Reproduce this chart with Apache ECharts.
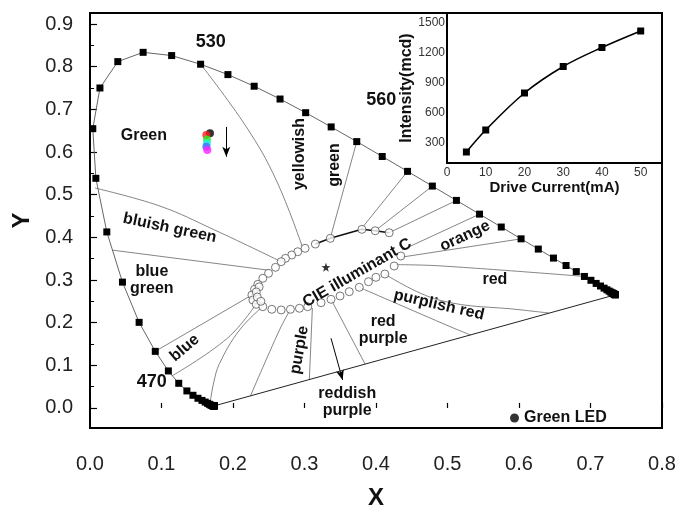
<!DOCTYPE html>
<html><head><meta charset="utf-8">
<script src="https://cdn.jsdelivr.net/npm/echarts@6/dist/echarts.min.js"></script>
<style>html,body{margin:0;padding:0;background:#fff}#c{width:678px;height:509px}</style>
</head><body><div id="c"></div>
<script>
// ---- CIE 1931 spectral locus (x, y), 380-700 nm every 5 nm ----
const locusWavelengths = [380,385,390,395,400,405,410,415,420,425,430,435,440,445,450,455,460,465,470,475,480,485,490,495,500,505,510,515,520,525,530,535,540,545,550,555,560,565,570,575,580,585,590,595,600,605,610,615,620,625,630,635,640,645,650,655,660,665,670,675,680,685,690,695,700];
const locusX = [0.1741,0.1740,0.1738,0.1736,0.1733,0.1730,0.1726,0.1721,0.1714,0.1703,0.1689,0.1669,0.1644,0.1611,0.1566,0.1510,0.1440,0.1355,0.1241,0.1096,0.0913,0.0687,0.0454,0.0235,0.0082,0.0039,0.0139,0.0389,0.0743,0.1142,0.1547,0.1929,0.2296,0.2658,0.3016,0.3373,0.3731,0.4087,0.4441,0.4788,0.5125,0.5448,0.5752,0.6029,0.6270,0.6482,0.6658,0.6801,0.6915,0.7006,0.7079,0.7140,0.7190,0.7230,0.7260,0.7283,0.7300,0.7311,0.7320,0.7327,0.7334,0.7340,0.7344,0.7346,0.7347];
const locusY = [0.0050,0.0050,0.0049,0.0049,0.0048,0.0048,0.0048,0.0048,0.0051,0.0058,0.0069,0.0086,0.0109,0.0138,0.0177,0.0227,0.0297,0.0399,0.0578,0.0868,0.1327,0.2007,0.2950,0.4127,0.5384,0.6548,0.7502,0.8120,0.8338,0.8262,0.8059,0.7816,0.7543,0.7243,0.6923,0.6589,0.6245,0.5896,0.5547,0.5202,0.4866,0.4544,0.4242,0.3965,0.3725,0.3514,0.3340,0.3197,0.3083,0.2993,0.2920,0.2859,0.2809,0.2770,0.2740,0.2717,0.2700,0.2689,0.2680,0.2673,0.2666,0.2660,0.2656,0.2654,0.2653];
const purpleLine = [[0.1741,0.0050],[0.7347,0.2653]];

// ---- white-region boundary (open circles) ----
const whiteX = [0.3008,0.2905,0.2821,0.2734,0.2674,0.2594,0.2497,0.2417,0.2347,0.2301,0.2264,0.2278,0.2325,0.2417,0.2543,0.2674,0.2803,0.2929,0.3045,0.3232,0.3371,0.3497,0.3626,0.3766,0.3895,0.3999,0.4124,0.4254,0.4347,0.4184,0.3989,0.3803,0.3361,0.3152,0.2366,0.2325,0.2340,0.2390];
const whiteY = [0.3743,0.3663,0.3586,0.3508,0.3429,0.3297,0.3157,0.3040,0.2899,0.2782,0.2648,0.2531,0.2430,0.2374,0.2313,0.2297,0.2313,0.2337,0.2374,0.2468,0.2547,0.2625,0.2726,0.2829,0.2960,0.3063,0.3140,0.3328,0.3562,0.4108,0.4155,0.4188,0.3977,0.3843,0.2840,0.2720,0.2600,0.2500];
const whiteTopEdge = [[0.3152,0.3843],[0.3361,0.3977],[0.3803,0.4188],[0.3989,0.4155],[0.4184,0.4108]];
const illuminantStar = [[0.330,0.330]];

// ---- colour-name boundary lines ----
const boundaryLines = [
  [[0.1547,0.8059],[0.2186,0.6591],[0.2604,0.5344],[0.2971,0.3773]],
  [[0.3361,0.3984],[0.3731,0.6245]],
  [[0.3789,0.4188],[0.4441,0.5547]],
  [[0.3989,0.4155],[0.4788,0.5202]],
  [[0.4184,0.4108],[0.5125,0.4866]],
  [[0.4365,0.3703],[0.5448,0.4544]],
  [[0.4365,0.3538],[0.6029,0.3965]],
  [[0.4280,0.3360],[0.4909,0.3330],[0.6915,0.3083]],
  [[0.4124,0.3140],[0.4881,0.2531],[0.6043,0.2297],[0.6416,0.2227]],
  [[0.3766,0.2829],[0.5049,0.1898],[0.5323,0.1710]],
  [[0.3371,0.2547],[0.3848,0.1028]],
  [[0.3110,0.2343],[0.3068,0.0667]],
  [[0.2799,0.2297],[0.2650,0.1828],[0.2245,0.0284]],
  [[0.2413,0.2374],[0.2092,0.1828],[0.1813,0.1048],[0.1729,0.0586],[0.1683,0.0148]],
  [[0.2343,0.2484],[0.1925,0.1640],[0.1144,0.0750]],
  [[0.2264,0.2648],[0.0913,0.1327]],
  [[0.2510,0.3227],[0.0314,0.3700]],
  [[0.2674,0.3429],[0.1743,0.4172],[0.0977,0.4734],[0.0070,0.5156]]
];

// ---- Green LED chromaticity points ----
const ledX = [0.1678,0.1627,0.1636,0.1636,0.1627,0.1641];
const ledY = [0.6438,0.6397,0.6296,0.6203,0.6124,0.6046];
const ledColors = ['#000000','#ff1a1a','#22ee22','#22eeee','#4466ff','#ff22ff'];

// ---- arrows ----
const arrows = [
  [[0.1906,0.659],[0.1906,0.589]],
  [[0.3371,0.1634],[0.3533,0.0656]]
];

// ---- text annotations [x, y] ----
const annotationPos = [[0.0753,0.6375],[0.1688,0.8578],[0.4073,0.7218],[0.2929,0.5953],[0.3417,0.5695],[0.1116,0.4218],[0.0865,0.300],[0.1325,0.1406],[0.0865,0.0609],[0.2929,0.1359],[0.4100,0.1828],[0.3598,0.0141],[0.4881,0.2414],[0.3738,0.3164],[0.5244,0.4031],[0.5663,0.3000]];
const annotationText = ['Green','530','560','yellowish','green','bluish green','blue\ngreen','blue','470','purple','red\npurple','reddish\npurple','purplish red','CIE illuminant C','orange','red'];
const annotationRot = [0,0,0,90,90,-12,0,40,0,80,0,0,-13,30,25,0];

// ---- axes ticks ----
const xTicks = [0,0.1,0.2,0.3,0.4,0.5,0.6,0.7,0.8];
const yTicks = [0,0.1,0.2,0.3,0.4,0.5,0.6,0.7,0.8,0.9];
const yMinorTicks = [-0.05,0.05,0.15,0.25,0.35,0.45,0.55,0.65,0.75,0.85];

// ---- inset: intensity vs drive current ----
const driveCurrent = [5,10,20,30,40,50];
const intensity = [210,430,800,1065,1255,1420];
const insetYTicks = [300,600,900,1200,1500];
const insetYMinor = [150,450,750,1050,1350];

const chart = echarts.init(document.getElementById('c'), null, {renderer:'canvas'});
const FONT = "'Liberation Sans', Arial, sans-serif";

const series = [];
boundaryLines.forEach(function(pts){
  series.push({type:'line', xAxisIndex:0, yAxisIndex:0, data:pts, showSymbol:false, symbol:'none', smooth: pts.length>2 ? 0.4 : false,
    lineStyle:{color:'#777', width:0.9}, silent:true, z:2});
});
series.push({type:'line', xAxisIndex:0, yAxisIndex:0, data:purpleLine, symbol:'none', lineStyle:{color:'#222', width:1}, z:3});
series.push({type:'line', xAxisIndex:0, yAxisIndex:0, data:locusX.map(function(x,i){return [x,locusY[i]];}),
  symbol:'rect', symbolSize:7, showAllSymbol:true, itemStyle:{color:'#000'}, lineStyle:{color:'#666', width:1}, z:4});
series.push({type:'line', xAxisIndex:0, yAxisIndex:0, data:whiteTopEdge, symbol:'none', lineStyle:{color:'#111', width:1.6}, z:4});
series.push({type:'scatter', xAxisIndex:0, yAxisIndex:0, data:whiteX.map(function(x,i){return [x,whiteY[i]];}),
  symbol:'circle', symbolSize:8, itemStyle:{color:'#fff', borderColor:'#555', borderWidth:1}, z:5});
series.push({type:'scatter', xAxisIndex:0, yAxisIndex:0, data:illuminantStar,
  symbol:'path://M0,-10 L2.35,-3.24 9.51,-3.09 3.8,1.24 5.88,8.09 0,4 -5.88,8.09 -3.8,1.24 -9.51,-3.09 -2.35,-3.24 Z',
  symbolSize:9, itemStyle:{color:'#000'}, z:5});
series.push({type:'scatter', name:'Green LED', xAxisIndex:0, yAxisIndex:0,
  data:ledX.map(function(x,i){return {value:[x,ledY[i]], itemStyle:{color:ledColors[i]}};}),
  symbol:'circle', symbolSize:8, itemStyle:{color:'#000'}, z:6});
series.push({type:'line', xAxisIndex:0, yAxisIndex:0, data:[], z:6,
  markLine:{silent:true, symbol:['none','arrow'], symbolSize:[6,10], label:{show:false},
    lineStyle:{color:'#000', width:1, type:'solid'},
    data: arrows.map(function(a){return [{coord:a[0]},{coord:a[1]}];})}});
series.push({type:'custom', xAxisIndex:0, yAxisIndex:0, data:annotationPos, z:7, silent:true,
  renderItem:function(params, api){
    const i = params.dataIndex;
    const p = api.coord([api.value(0), api.value(1)]);
    const big = (annotationText[i]==='530'||annotationText[i]==='470'||annotationText[i]==='560');
    return {type:'text', x:p[0], y:p[1], rotation: annotationRot[i]*Math.PI/180,
      style:{text:annotationText[i], fill:'#111', align:'center', verticalAlign:'middle',
        font:'bold '+(big?18:16)+'px '+FONT, lineHeight:17}};
  }});
// inset
series.push({type:'line', xAxisIndex:1, yAxisIndex:2, data:driveCurrent.map(function(d,i){return [d,intensity[i]];}),
  smooth:0.35, symbol:'rect', symbolSize:7, itemStyle:{color:'#000'}, lineStyle:{color:'#000', width:1.6}, z:10});

const option = {
  backgroundColor:'#fff',
  animation:false,
  legend:{data:[{name:'Green LED', icon:'circle'}], left:505, top:405, itemWidth:9, itemHeight:9, itemGap:6,
    textStyle:{fontFamily:FONT, fontWeight:'bold', fontSize:16, color:'#111'}},
  grid:[
    {left:90, top:13, width:572, height:415, outerBoundsMode:'none', containLabel:false, show:true, borderColor:'#000', borderWidth:2, backgroundColor:'transparent'},
    {left:447, top:13, width:215, height:150, outerBoundsMode:'none', containLabel:false, show:true, borderColor:'#000', borderWidth:2, backgroundColor:'#fff', z:8}
  ],
  xAxis:[
    {type:'value', gridIndex:0, min:0, max:0.8, name:'X', nameLocation:'middle', nameGap:58,
      nameTextStyle:{fontFamily:FONT, fontWeight:'bold', fontSize:24, color:'#111'},
      axisLine:{show:false}, splitLine:{show:false},
      axisTick:{show:true, inside:true, length:5, customValues:xTicks, lineStyle:{color:'#000', width:1.2}},
      axisLabel:{customValues:xTicks, margin:26, fontFamily:FONT, fontSize:20, color:'#222', formatter:function(v){return v.toFixed(1);}}},
    {type:'value', gridIndex:1, min:0, max:55.5, interval:10, name:'Drive Current(mA)', nameLocation:'middle', nameGap:17,
      nameTextStyle:{fontFamily:FONT, fontWeight:'bold', fontSize:15, color:'#111'},
      axisLine:{show:false}, splitLine:{show:false},
      axisTick:{show:true, inside:true, length:4, lineStyle:{color:'#000'}},
      minorTick:{show:true, splitNumber:2, length:2, lineStyle:{color:'#000'}},
      axisLabel:{margin:4, fontFamily:FONT, fontSize:12, color:'#333', showMaxLabel:false}}
  ],
  yAxis:[
    {type:'value', gridIndex:0, min:-0.047, max:0.926, name:'Y', nameLocation:'middle', nameGap:53, nameRotate:90,
      nameTextStyle:{fontFamily:FONT, fontWeight:'bold', fontSize:24, color:'#111'},
      axisLine:{show:false}, splitLine:{show:false},
      axisTick:{show:true, inside:true, length:7, customValues:yTicks, lineStyle:{color:'#000', width:1.2}},
      axisLabel:{customValues:yTicks, margin:17, fontFamily:FONT, fontSize:20, color:'#222', formatter:function(v){return v.toFixed(1);}}},
    {type:'value', gridIndex:0, min:-0.047, max:0.926, position:'left',
      axisLine:{show:false}, splitLine:{show:false}, axisLabel:{show:false},
      axisTick:{show:true, inside:true, length:4, customValues:yMinorTicks, lineStyle:{color:'#000', width:1}}},
    {type:'value', gridIndex:1, min:100, max:1600, name:'Intensity(mcd)', nameLocation:'middle', nameGap:27, nameRotate:90,
      nameTextStyle:{fontFamily:FONT, fontWeight:'bold', fontSize:16, color:'#111'},
      axisLine:{show:false}, splitLine:{show:false},
      axisTick:{show:true, inside:true, length:4, customValues:insetYTicks, lineStyle:{color:'#000'}},
      axisLabel:{customValues:insetYTicks, margin:2, fontFamily:FONT, fontSize:12, color:'#333', formatter:function(v){return String(v);}}},
    {type:'value', gridIndex:1, min:100, max:1600, position:'left',
      axisLine:{show:false}, splitLine:{show:false}, axisLabel:{show:false},
      axisTick:{show:true, inside:true, length:2, customValues:insetYMinor, lineStyle:{color:'#000'}}}
  ],
  series: series
};
chart.setOption(option);
</script></body></html>
